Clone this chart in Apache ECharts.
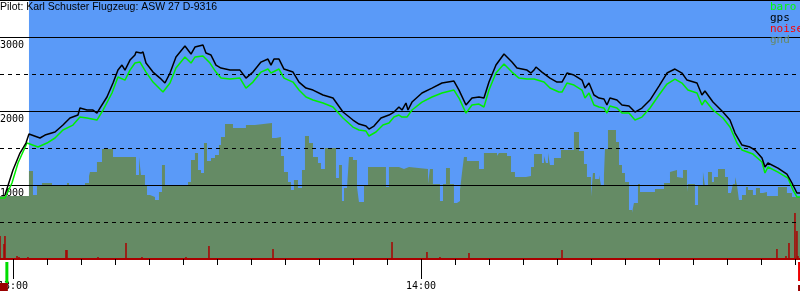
<!DOCTYPE html>
<html>
<head>
<meta charset="utf-8">
<script src="https://cdn.jsdelivr.net/npm/echarts@6/dist/echarts.min.js"></script>
<style>
  html, body { margin: 0; padding: 0; background: #fff; }
  #chart { width: 800px; height: 300px; }
</style>
</head>
<body>
<div id="chart"></div>
<script>
// Zeit in Minuten ab 13:00, Hoehe in m
var gpsMin = [-1.18,0,1.03,1.91,2.35,3.97,4.71,6.18,7.35,8.38,9.56,9.85,10.88,11.76,12.35,12.79,13.82,14.71,15.44,16.03,16.47,17.21,17.94,18.09,18.82,19.12,19.56,20.59,21.62,22.35,23.09,23.97,25.29,26.18,26.76,27.94,28.38,29.12,29.85,30.59,31.91,33.38,34.26,35.29,36.47,37.5,37.94,38.38,39.12,39.85,41.18,42.06,43.09,44.12,45.59,47.06,48.53,50,50.88,51.91,52.35,53.09,54.12,55.29,56.03,56.76,57.21,57.79,58.09,58.68,60.15,61.62,63.09,64.85,65.59,66.62,67.5,68.53,69.26,70,71.03,72.21,73.38,74.12,75.59,76.18,76.62,76.91,77.79,78.97,80,80.74,81.47,82.5,83.68,84.12,84.71,85.44,86.18,86.91,87.35,87.79,88.82,89.56,90.59,91.47,92.5,93.68,95,96.18,97.35,98.38,99.12,100.59,101.32,101.76,102.94,104.41,105.44,106.18,107.21,108.38,109.12,110.15,110.59,111.03,112.5,113.82,114.56,115.29,115.74];
var gpsAlt = [865,1202,1432,1567,1689,1635,1675,1716,1810,1905,1945,2040,2013,2013,1972,2040,2189,2378,2553,2621,2553,2688,2756,2797,2783,2797,2648,2526,2445,2378,2513,2729,2878,2770,2864,2891,2783,2756,2621,2580,2553,2553,2445,2526,2661,2702,2621,2702,2702,2567,2526,2391,2310,2283,2216,2175,1986,1878,1824,1797,1756,1797,1905,1945,1986,2054,2013,2108,2013,2121,2243,2310,2378,2405,2283,2081,2175,2189,2175,2391,2621,2770,2661,2580,2553,2513,2553,2594,2526,2445,2391,2391,2513,2486,2418,2310,2378,2216,2175,2162,2081,2175,2148,2081,2067,1986,2040,2148,2337,2513,2567,2513,2418,2378,2216,2270,2121,1986,1878,1702,1540,1513,1473,1365,1243,1297,1229,1148,1027,892,892];

var baroMin = [-1.91,-1.18,-0.15,0.74,2.06,2.35,3.68,5,6.18,7.35,8.82,9.85,10.88,12.35,13.24,14.56,15.44,16.47,17.21,17.94,18.68,19.56,20.59,22.06,23.09,23.97,25.29,26.18,26.76,27.94,28.97,29.85,30.59,31.91,33.38,34.26,35.29,36.47,37.5,37.94,39.12,39.85,41.18,42.06,43.09,44.12,45.59,47.06,48.53,50,50.88,51.91,52.35,53.38,54.41,55.29,56.03,56.76,57.21,57.94,58.68,60.15,61.62,63.09,64.85,65.59,66.62,67.5,68.53,69.26,70,71.03,72.21,73.38,74.41,75.59,76.62,76.91,78.09,78.97,80.29,80.74,81.47,82.5,83.68,84.12,84.71,85.44,86.18,86.91,87.35,87.79,88.82,89.56,90.59,91.47,92.5,93.68,95,96.18,96.32,97.35,98.38,99.26,100.59,101.32,101.76,102.94,104.41,105.44,106.47,107.21,108.82,110.15,110.59,111.03,112.5,113.97,114.71,115.29,115.74];
var baroAlt = [824,824,1027,1297,1567,1567,1513,1567,1635,1743,1810,1918,1905,1878,2013,2243,2459,2418,2553,2648,2661,2526,2391,2256,2378,2580,2729,2648,2729,2743,2648,2526,2445,2432,2445,2310,2391,2526,2567,2513,2567,2445,2391,2283,2189,2148,2108,2054,1905,1783,1743,1729,1662,1716,1810,1837,1918,1945,1918,1918,2013,2121,2189,2243,2283,2175,1972,2081,2094,2054,2283,2513,2634,2526,2445,2432,2432,2459,2391,2310,2256,2256,2378,2351,2283,2175,2243,2081,2054,2040,1972,2067,2040,1972,1972,1878,1918,2040,2216,2364,2391,2432,2378,2283,2243,2081,2148,2013,1905,1783,1567,1473,1418,1310,1162,1243,1175,1094,932,838,838];

// Gelaendehoehe, jeweils ab Zeitpunkt (Treppe)
var gndMin = [-1.91,2.35,2.94,3.53,4.26,5.74,7.94,8.24,10.59,11.18,11.32,12.35,13.09,14.71,18.09,18.53,18.82,19.41,19.71,20.15,20.88,21.47,21.91,22.35,25.74,26.18,26.76,27.21,27.65,28.09,28.53,29.12,29.71,30.29,30.59,31.18,32.35,34.26,35.59,38.09,38.68,39.41,39.85,40.44,40.88,41.32,41.91,42.5,42.94,43.53,44.12,44.85,45.29,45.88,47.5,47.94,48.38,48.68,49.12,49.41,50,50.59,50.88,51.62,52.21,54.85,55.29,56.76,57.5,58.24,61.03,61.32,61.76,62.79,63.24,63.68,64.26,64.85,65.29,65.74,66.03,66.32,66.76,68.53,69.26,71.18,71.47,72.65,73.24,73.82,75.44,76.18,76.62,77.79,78.09,78.38,78.68,78.97,79.56,80.59,82.5,83.24,83.97,84.41,85,85.29,85.59,86.18,86.47,86.91,87.06,87.5,88.68,89.12,89.56,90,90.59,91.03,91.32,91.91,92.21,94.41,95.74,96.62,96.91,97.65,97.94,98.53,99.12,99.26,100.29,100.74,101.47,101.76,102.21,102.79,103.09,103.68,104.71,105.15,105.59,105.88,106.18,106.47,106.76,107.21,107.79,108.09,108.82,109.26,109.85,110.29,110.88,112.5,113.82,114.56,115.74];
var gndAlt = [851,1189,865,986,1027,986,1027,986,1027,1121,1175,1310,1486,1378,1135,1378,1135,1000,865,838,797,905,1270,1000,1040,1337,1432,1202,1162,1567,1324,1364,1405,1540,1648,1824,1770,1810,1837,1635,1648,1392,1175,1040,932,1067,959,1202,1662,1567,1378,1297,1216,1500,1094,1270,784,959,973,1378,1337,973,770,1000,1243,973,1243,1216,1243,1216,1013,1216,1013,784,1013,1229,1013,757,784,932,1162,1378,1324,1216,1432,1392,1432,1392,1175,1108,1121,1243,1418,1297,1392,1297,1432,1270,1364,1473,1716,1459,1283,1108,838,1162,1081,1135,1000,1135,1486,1743,1581,1270,1162,1040,662,621,757,1013,905,946,1027,1175,1202,1108,1094,1202,905,1013,730,1000,1175,986,1175,1040,1108,1216,1108,892,905,1013,1108,1000,797,865,973,932,865,959,892,905,851,973,892,838,838];

var noiseMin = [-1.91,-1.32,-1.18,0.59,0.88,2.2,7.79,7.94,12.5,15,16.62,18.97,21.76,25.44,28.82,31.18,35,38.24,54.12,55.74,60.88,62.79,67.06,80.74,89.85,96.32,112.35,113.68,114.12,115,115.29,115.44];
var noiseVal = [311,203,311,41,27,27,122,122,27,14,216,27,14,27,176,14,14,135,14,230,95,27,81,122,14,14,135,41,216,621,378,41];

var skyStart = 2.35;          // ab hier blauer Himmel
var takeoffMin = -0.9;        // Startmarke unter der Achse
var landingMin = 115.6;       // Landemarke
var tickMinutes = [0,5,10,15,20,25,30,35,40,45,50,55,60,65,70,75,80,85,90,95,100,105,110,115];
var hourMinutes = [0, 60];
var solidLevels = [1000, 2000, 3000];
var dashedLevels = [500, 1500, 2500];

var xMin = -1.91, xMax = 115.74;

function zip(a, b) {
    var out = [];
    for (var i = 0; i < a.length; i++) {
        out.push([a[i], b[i]]);
    }
    return out;
}

function fmtTime(m) {
    var h = 13 + Math.floor(m / 60);
    var mm = Math.round(m % 60);
    return h + ':' + (mm < 10 ? '0' + mm : mm);
}

var chart = echarts.init(document.getElementById('chart'), null, {renderer: 'canvas'});

var option = {
    animation: false,
    backgroundColor: '#ffffff',
    title: {
        text: 'Pilot: Karl Schuster Flugzeug: ASW 27 D-9316',
        left: 0,
        top: 2,
        padding: 0,
        textStyle: {
            fontFamily: 'Liberation Sans',
            fontSize: 10.5,
            fontWeight: 'normal',
            color: '#000'
        }
    },
    legend: {
        orient: 'vertical',
        left: 765,
        top: 2,
        padding: 0,
        itemGap: 0,
        itemWidth: 0,
        itemHeight: 10,
        icon: 'none',
        selectedMode: false,
        textStyle: {
            fontFamily: 'DejaVu Sans Mono',
            fontSize: 11,
            lineHeight: 10
        },
        data: [
            {name: 'baro', textStyle: {color: '#00ff00'}},
            {name: 'gps', textStyle: {color: '#000000'}},
            {name: 'noise', textStyle: {color: '#ff0000'}},
            {name: 'gnd', textStyle: {color: '#668866'}}
        ]
    },
    grid: {left: 0, right: 0, top: 0, bottom: 41, containLabel: false, outerBoundsMode: 'none'},
    xAxis: [
        {
            type: 'value',
            min: xMin,
            max: xMax,
            z: 3,
            splitLine: {show: false},
            axisLine: {show: true, lineStyle: {color: '#aa0000', width: 2}},
            axisTick: {show: true, customValues: tickMinutes, length: 6, lineStyle: {color: '#000', width: 1}},
            axisLabel: {
                customValues: hourMinutes,
                margin: 22,
                fontFamily: 'DejaVu Sans Mono',
                fontSize: 10,
                color: '#000',
                formatter: fmtTime
            }
        },
        {
            type: 'value',
            min: xMin,
            max: xMax,
            position: 'bottom',
            z: 3,
            splitLine: {show: false},
            axisLine: {show: false},
            axisTick: {show: true, customValues: hourMinutes, length: 20, lineStyle: {color: '#000', width: 1}},
            axisLabel: {show: false}
        }
    ],
    yAxis: {
        type: 'value',
        min: 0,
        max: 3500,
        interval: 1000,
        z: 3,
        axisLine: {show: false},
        axisTick: {show: false},
        splitLine: {show: true, lineStyle: {color: '#000', width: 1}},
        axisLabel: {
            inside: true,
            margin: 0,
            verticalAlign: 'top',
            align: 'left',
            padding: [3, 0, 0, 0],
            fontFamily: 'DejaVu Sans Mono',
            fontSize: 10,
            color: '#000',
            formatter: function (v) {
                return solidLevels.indexOf(v) >= 0 ? String(v) : '';
            }
        }
    },
    series: [
        {
            // Himmel
            name: 'sky',
            type: 'line',
            z: 0,
            data: [],
            markArea: {
                silent: true,
                itemStyle: {color: '#5a9af8'},
                data: [[{xAxis: skyStart}, {xAxis: xMax}]]
            }
        },
        {
            name: 'gnd',
            type: 'line',
            z: 1,
            step: 'end',
            symbol: 'none',
            lineStyle: {width: 0},
            itemStyle: {color: '#668866'},
            areaStyle: {color: '#658b65', opacity: 1},
            data: zip(gndMin, gndAlt)
        },
        {
            name: 'noise',
            type: 'bar',
            z: 2,
            barWidth: 1.5,
            itemStyle: {color: '#aa0000'},
            data: zip(noiseMin, noiseVal),
            markLine: {
                silent: true,
                symbol: 'none',
                label: {show: false},
                lineStyle: {color: '#000', type: [4, 4], width: 1},
                data: dashedLevels.map(function (v) { return {yAxis: v}; })
            }
        },
        {
            name: 'baro',
            type: 'line',
            z: 5,
            symbol: 'none',
            lineStyle: {color: '#00ee00', width: 1.5},
            itemStyle: {color: '#00ff00'},
            data: zip(baroMin, baroAlt)
        },
        {
            name: 'gps',
            type: 'line',
            z: 6,
            symbol: 'none',
            lineStyle: {color: '#000', width: 1.5},
            itemStyle: {color: '#000'},
            data: zip(gpsMin, gpsAlt)
        }
    ]
};

chart.setOption(option);

// Start- und Landemarken unter der Zeitachse
var base = chart.convertToPixel({gridIndex: 0}, [xMin, 0]);
var tx = chart.convertToPixel({xAxisIndex: 0}, takeoffMin);
var lx = chart.convertToPixel({xAxisIndex: 0}, landingMin);
chart.setOption({
    graphic: [
        {type: 'rect', shape: {x: tx - 1.5, y: base[1] + 3, width: 3, height: 21}, style: {fill: '#00dd00'}, z: 10},
        {type: 'rect', shape: {x: 0, y: base[1] + 24, width: tx + 1, height: 8}, style: {fill: '#990000'}, z: 10},
        {type: 'rect', shape: {x: lx - 1, y: base[1] + 3, width: 3, height: 19}, style: {fill: '#ee0000'}, z: 10},
        {type: 'rect', shape: {x: lx - 1, y: base[1] + 26, width: 3, height: 6}, style: {fill: '#990000'}, z: 10}
    ]
});
</script>
</body>
</html>
